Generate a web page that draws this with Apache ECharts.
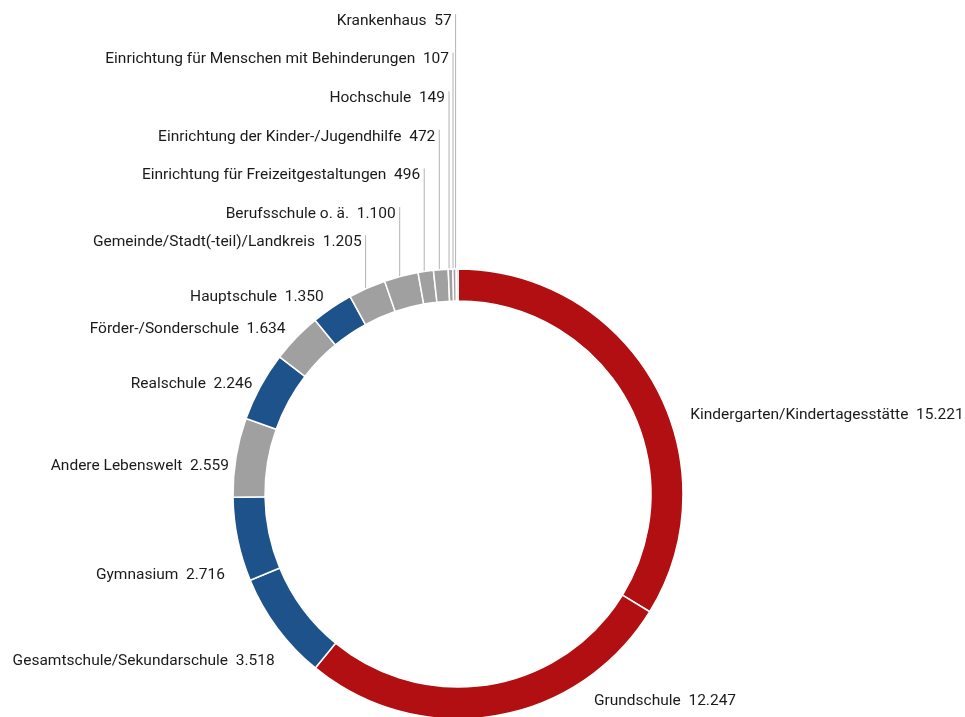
<!DOCTYPE html>
<html><head><meta charset="utf-8">
<script src="https://cdn.jsdelivr.net/npm/echarts@6/dist/echarts.min.js"></script>
<style>html,body{margin:0;padding:0;background:#fff}#chart{width:965px;height:717px}</style>
</head><body><div id="chart"></div>
<script>
// ---- data ----
const categories = [
  'Kindergarten/Kindertagesstätte','Grundschule','Gesamtschule/Sekundarschule','Gymnasium',
  'Andere Lebenswelt','Realschule','Förder-/Sonderschule','Hauptschule',
  'Gemeinde/Stadt(-teil)/Landkreis','Berufsschule o. ä.','Einrichtung für Freizeitgestaltungen',
  'Einrichtung der Kinder-/Jugendhilfe','Hochschule','Einrichtung für Menschen mit Behinderungen','Krankenhaus'
];
const values = [15221,12247,3518,2716,2559,2246,1634,1350,1205,1100,496,472,149,107,57];
const groups = ['kita','kita','schule','schule','andere','schule','andere','schule',
  'andere','andere','andere','andere','andere','andere','andere'];

// ---- styling / layout config ----
const groupColors = { kita: '#B10F12', schule: '#1D528A', andere: '#A0A0A0' };
const CX = 458, CY = 494, R_OUT = 225, R_IN = 193;
const labelNudgeDeg = [-10, 24, 5.5, 7, 2, 0, 0, 0];       // angular nudges for outer labels
const labelDist = [246, 246, 247, 246, 231, 234, 240, 240]; // radial label distance
const ROW_TOP = 19, ROW_STEP = 38.6, TEXT_DY = 2;

function fmt(v) { return String(v).replace(/\B(?=(\d{3})+(?!\d))/g, '.'); }

const chart = echarts.init(document.getElementById('chart'), null, { renderer: 'canvas' });

function labelLayout(p) {
  const i = p.dataIndex;
  const pts = p.labelLinePoints;
  if (!pts) return {};
  const p0 = pts[0];
  const ang = Math.atan2(-(p0[1] - CY), p0[0] - CX);
  const deg = ang * 180 / Math.PI;
  if (deg > 90 && deg < 118) {
    // stacked labels above the small slices near the top
    let k = 0;
    for (let j = i + 1; j < values.length; j++) k++;
    const y = Math.min(ROW_TOP + k * ROW_STEP, p0[1] - 48);
    const lx = p0[0] - 1.5;
    return {
      x: lx - 4, y: y + TEXT_DY, align: 'right', verticalAlign: 'middle',
      labelLinePoints: [[lx, p0[1]], [lx, y - 5], [lx, y - 5]]
    };
  }
  const a = ang + (labelNudgeDeg[i] || 0) * Math.PI / 180;
  const d = labelDist[i] || 240;
  const x = CX + d * Math.cos(a), y = CY - d * Math.sin(a);
  return {
    x: x, y: y + TEXT_DY, align: Math.cos(a) < 0 ? 'right' : 'left', verticalAlign: 'middle',
    labelLinePoints: [[x, y], [x, y], [x, y]]
  };
}

chart.setOption({
  animation: false,
  backgroundColor: '#ffffff',
  series: [{
    type: 'pie',
    center: [CX, CY],
    radius: [R_IN, R_OUT],
    startAngle: 90,
    clockwise: true,
    avoidLabelOverlap: false,
    silent: true,
    itemStyle: { borderColor: '#ffffff', borderWidth: 1.5 },
    label: {
      show: true,
      position: 'outside',
      bleedMargin: -2000,
      fontFamily: 'Roboto',
      fontSize: 15.5,
      color: '#1a1a1a',
      formatter: (p) => p.name + '  ' + fmt(p.value)
    },
    labelLine: {
      show: true, length: 10, length2: 10,
      lineStyle: { color: '#b3b3b3', width: 1 }
    },
    labelLayout: labelLayout,
    data: categories.map((c, i) => ({
      name: c, value: values[i], itemStyle: { color: groupColors[groups[i]] }
    }))
  }]
});
</script>
</body></html>
